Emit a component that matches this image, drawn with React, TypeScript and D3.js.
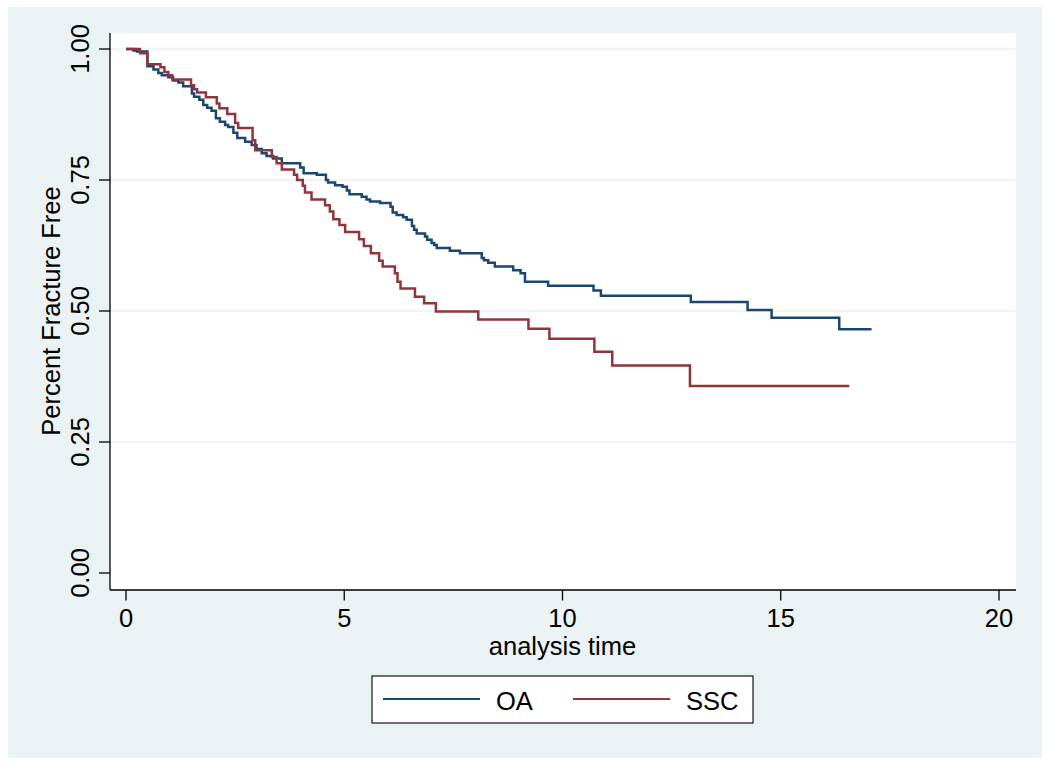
import React from "react";
import * as d3 from "d3";

// Kaplan-Meier step data (time, survival after step)
const oaTimes = [0, 0.17, 0.25, 0.49, 0.63, 0.74, 0.82, 0.97, 1.08, 1.20, 1.31, 1.51, 1.56, 1.68, 1.77, 1.86, 1.96, 2.06, 2.15, 2.27, 2.34, 2.46, 2.55, 2.73, 2.88, 2.99, 3.11, 3.22, 3.37, 3.57, 3.99, 4.07, 4.37, 4.58, 4.63, 4.79, 4.96, 5.06, 5.12, 5.40, 5.51, 5.59, 5.82, 6.06, 6.11, 6.20, 6.35, 6.43, 6.55, 6.60, 6.66, 6.85, 6.90, 7.00, 7.06, 7.12, 7.42, 7.65, 8.15, 8.20, 8.30, 8.45, 8.87, 9.04, 9.14, 9.67, 10.71, 10.88, 12.94, 14.24, 14.79, 16.34, 17.08];
const oaSurv = [1, 0.997, 0.995, 0.967, 0.961, 0.954, 0.950, 0.946, 0.940, 0.936, 0.929, 0.915, 0.909, 0.903, 0.893, 0.888, 0.882, 0.868, 0.861, 0.855, 0.851, 0.840, 0.830, 0.823, 0.817, 0.809, 0.801, 0.796, 0.791, 0.782, 0.774, 0.763, 0.760, 0.750, 0.745, 0.740, 0.737, 0.730, 0.723, 0.718, 0.713, 0.709, 0.706, 0.699, 0.688, 0.683, 0.679, 0.674, 0.662, 0.655, 0.648, 0.642, 0.636, 0.630, 0.626, 0.620, 0.615, 0.610, 0.601, 0.597, 0.592, 0.585, 0.578, 0.572, 0.556, 0.548, 0.539, 0.529, 0.517, 0.502, 0.487, 0.465, 0.465];

const sscTimes = [0, 0.32, 0.49, 0.79, 0.88, 0.97, 1.06, 1.49, 1.56, 1.63, 1.83, 2.08, 2.14, 2.32, 2.50, 2.57, 2.90, 2.96, 3.34, 3.45, 3.57, 3.85, 3.92, 4.05, 4.10, 4.25, 4.56, 4.67, 4.75, 4.89, 5.02, 5.34, 5.45, 5.61, 5.80, 5.88, 6.16, 6.22, 6.29, 6.62, 6.83, 7.10, 8.07, 9.22, 9.70, 10.73, 11.14, 12.92, 16.57];
const sscSurv = [1, 0.992, 0.971, 0.965, 0.956, 0.950, 0.942, 0.931, 0.923, 0.917, 0.908, 0.896, 0.887, 0.876, 0.859, 0.849, 0.826, 0.807, 0.794, 0.782, 0.770, 0.760, 0.750, 0.739, 0.726, 0.713, 0.702, 0.690, 0.675, 0.664, 0.651, 0.637, 0.624, 0.610, 0.596, 0.585, 0.572, 0.556, 0.543, 0.527, 0.515, 0.499, 0.484, 0.466, 0.447, 0.422, 0.396, 0.357, 0.357];

const xTicks = [0, 5, 10, 15, 20];
const yTicks = [0, 0.25, 0.5, 0.75, 1];
const yGrid = [0.25, 0.5, 0.75, 1];
const seriesNames = ["OA", "SSC"];
const seriesColors = ["#1a476f", "#90353b"];

const FONT = "'Liberation Sans', Arial, Helvetica, sans-serif";
const FS = 25.5;

export default function App() {
  const x = d3.scaleLinear().domain([0, 20]).range([126, 999]);
  const y = d3.scaleLinear().domain([0, 1]).range([573, 49]);
  const line = d3
    .line<[number, number]>()
    .x((d) => x(d[0]))
    .y((d) => y(d[1]))
    .curve(d3.curveStepAfter);

  const oa: [number, number][] = oaTimes.map((t, i) => [t, oaSurv[i]]);
  const ssc: [number, number][] = sscTimes.map((t, i) => [t, sscSurv[i]]);
  const series = [oa, ssc];

  const plotL = 110, plotR = 1016, plotT = 33, plotB = 590;

  return (
    <svg
      width={1050}
      height={768}
      style={{ position: "absolute", left: 0, top: 0 }}
      fontFamily={FONT}
    >
      <rect x={0} y={0} width={1050} height={768} fill="#ffffff" />
      <rect x={8} y={7} width={1034} height={751} fill="#eaf2f3" />
      <rect x={plotL} y={plotT} width={plotR - plotL} height={plotB - plotT} fill="#ffffff" />
      {yGrid.map((v) => (
        <line key={v} x1={plotL} x2={plotR} y1={y(v)} y2={y(v)} stroke="#eaf2f3" strokeWidth={1.6} />
      ))}
      {series.map((s, i) => (
        <path key={i} d={line(s) || ""} fill="none" stroke={seriesColors[i]} strokeWidth={2.5} strokeLinejoin="miter" />
      ))}
      {/* axes */}
      <line x1={plotL} x2={plotL} y1={plotT} y2={plotB} stroke="#000" strokeWidth={1.3} />
      <line x1={plotL} x2={plotR} y1={plotB} y2={plotB} stroke="#000" strokeWidth={1.3} />
      {yTicks.map((v) => (
        <g key={v}>
          <line x1={99} x2={plotL} y1={y(v)} y2={y(v)} stroke="#000" strokeWidth={1.3} />
          <text transform={`translate(88.5,${y(v)}) rotate(-90)`} textAnchor="middle" fontSize={FS} fill="#000">
            {v.toFixed(2)}
          </text>
        </g>
      ))}
      {xTicks.map((v) => (
        <g key={v}>
          <line x1={x(v)} x2={x(v)} y1={plotB} y2={600.5} stroke="#000" strokeWidth={1.3} />
          <text x={x(v)} y={627} textAnchor="middle" fontSize={FS} fill="#000">
            {v}
          </text>
        </g>
      ))}
      <text x={(x(0) + x(20)) / 2} y={655} textAnchor="middle" fontSize={FS} fill="#000">
        analysis time
      </text>
      <text transform={`translate(59.5,${y(0.5)}) rotate(-90)`} textAnchor="middle" fontSize={FS} fill="#000">
        Percent Fracture Free
      </text>
      {/* legend */}
      <rect x={372} y={676} width={381} height={47} fill="#ffffff" stroke="#000" strokeWidth={1.1} />
      <line x1={383} x2={480} y1={699} y2={699} stroke={seriesColors[0]} strokeWidth={2} />
      <text x={496} y={710} fontSize={FS} fill="#000">{seriesNames[0]}</text>
      <line x1={573} x2={670} y1={699} y2={699} stroke={seriesColors[1]} strokeWidth={2} />
      <text x={686} y={710} fontSize={FS} fill="#000">{seriesNames[1]}</text>
    </svg>
  );
}
